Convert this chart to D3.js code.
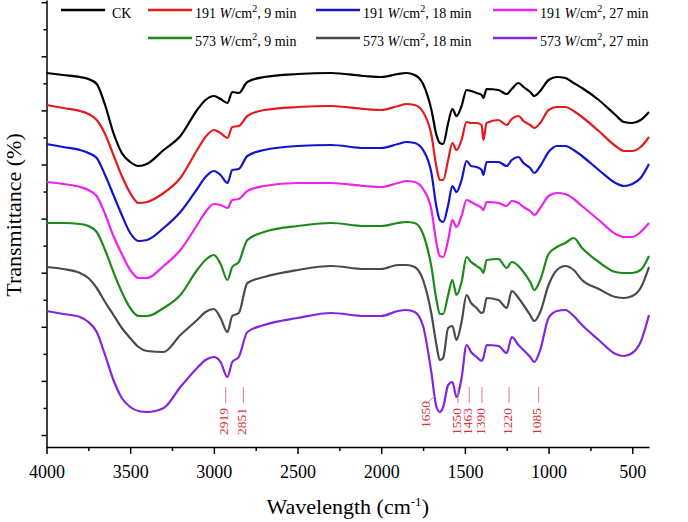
<!DOCTYPE html>
<html>
<head>
<meta charset="utf-8">
<script src="https://cdn.jsdelivr.net/npm/d3@7"></script>
<style>
  body { margin: 0; background: #fff; }
  svg, svg text { font-family: "Liberation Serif", "Times New Roman", serif; }
  svg { display: block; }
</style>
</head>
<body>
<svg id="chart"></svg>
<script>
// FTIR spectra, offset vertically (arbitrary transmittance units)
const wavenumbers = [4000, 3900, 3800, 3750, 3700, 3650, 3600, 3550, 3500, 3450,
  3400, 3300, 3200, 3100, 3050, 3000, 2960, 2919, 2890, 2851,
  2800, 2700, 2500, 2300, 2100, 2000, 1900, 1850, 1800, 1750,
  1700, 1670, 1650, 1630, 1600, 1575, 1550, 1520, 1490, 1463,
  1430, 1400, 1390, 1370, 1300, 1250, 1220, 1180, 1150, 1110,
  1085, 1050, 1000, 950, 900, 850, 800, 700, 600, 550,
  500, 450, 400];

const ck = [362, 360, 358, 356, 351, 330, 302, 282, 273, 269,
  271, 285, 299, 325, 335, 339, 336, 332, 343, 342,
  353, 358, 361, 362, 359, 358, 361, 362, 360, 351,
  325, 300, 292, 291, 312, 326, 319, 329, 345, 344,
  342, 340, 337, 346, 345, 341, 346, 352, 348, 343,
  339, 344, 355, 358, 357, 352, 347, 335, 320, 313,
  312, 315, 323];
const p191m9 = [330, 327, 324, 321, 315, 301, 280, 259, 242, 232,
  233, 242, 257, 285, 298, 305, 302, 297, 308, 309,
  319, 325, 328, 329, 326, 325, 329, 331, 330, 323,
  300, 268, 255, 255, 275, 292, 285, 295, 313, 312,
  312, 310, 295, 312, 315, 310, 316, 319, 314, 310,
  307, 312, 325, 328, 328, 324, 318, 304, 289, 284,
  284, 288, 298];
const p191m18 = [291, 288, 285, 282, 277, 260, 240, 220, 202, 194,
  195, 207, 223, 246, 258, 264, 260, 252, 265, 266,
  279, 285, 289, 290, 287, 287, 291, 293, 292, 285,
  262, 228, 215, 213, 230, 249, 243, 255, 274, 269,
  268, 265, 260, 273, 273, 269, 275, 278, 272, 267,
  262, 269, 283, 289, 289, 285, 279, 265, 252, 249,
  251, 257, 271];
const p191m27 = [253, 251, 248, 245, 239, 221, 199, 181, 165, 157,
  157, 169, 185, 210, 223, 231, 230, 227, 235, 236,
  244, 249, 252, 252, 249, 248, 252, 254, 253, 246,
  225, 192, 179, 178, 195, 215, 208, 219, 235, 233,
  230, 227, 225, 233, 232, 229, 234, 232, 228, 224,
  220, 227, 239, 242, 241, 236, 229, 215, 201, 198,
  198, 203, 212];
const p573m9 = [212, 212, 211, 209, 203, 185, 163, 143, 127, 119,
  119, 127, 140, 165, 175, 180, 171, 155, 168, 173,
  195, 203, 209, 212, 209, 209, 212, 213, 212, 201,
  168, 135, 121, 121, 140, 155, 140, 153, 178, 173,
  169, 165, 162, 175, 176, 167, 173, 169, 163, 153,
  145, 155, 181, 188, 192, 197, 187, 173, 163, 162,
  162, 165, 179];
const p573m18 = [168, 166, 162, 157, 147, 133, 120, 107, 97, 88,
  84, 83, 100, 115, 123, 126, 117, 103, 119, 122,
  152, 158, 165, 169, 166, 166, 170, 170, 168, 155,
  121, 90, 75, 77, 107, 109, 95, 113, 140, 132,
  127, 122, 123, 137, 135, 127, 144, 137, 130, 120,
  114, 123, 150, 165, 169, 165, 155, 146, 138, 137,
  139, 147, 168];
const p573m27 = [124, 121, 118, 113, 103, 80, 55, 37, 28, 24,
  23, 27, 48, 67, 75, 78, 73, 58, 73, 78,
  103, 110, 117, 122, 119, 119, 124, 125, 123, 109,
  62, 28, 23, 28, 50, 53, 38, 57, 90, 83,
  78, 74, 77, 90, 89, 82, 98, 90, 85, 78,
  73, 85, 117, 124, 125, 119, 110, 95, 81, 79,
  82, 93, 120];

const seriesValues = [ck, p191m9, p191m18, p191m27, p573m9, p573m18, p573m27];
const seriesPower = [null, 191, 191, 191, 573, 573, 573];
const seriesMinutes = [null, 9, 18, 27, 9, 18, 27];
const seriesColors = ["#000000", "#e41a1c", "#1414cc", "#ee22ee", "#1b8a1b", "#4a4a4a", "#8324e0"];

const xTickValues = [4000, 3500, 3000, 2500, 2000, 1500, 1000, 500];
const peakLabels = ["2919", "2851", "1650", "1550", "1463", "1390", "1220", "1085"];
const peakWavenumbers = [2919, 2851, 1650, 1550, 1463, 1390, 1220, 1085];
const peakLabelAt = [2941, 2836, 1738, 1553, 1486, 1410, 1248, 1071];

const width = 688, height = 522;
const svg = d3.select("#chart").attr("width", width).attr("height", height);

const x = d3.scaleLinear().domain([4000, 400]).range([46.5, 649]);
const y = d3.scaleLinear().domain([-12, 435]).range([447, 0]);

// bottom axis
const xMinor = d3.range(3750, 400, -500);
svg.append("g")
  .attr("transform", `translate(0,${y(-12)})`)
  .call(d3.axisBottom(x).tickValues(xMinor).tickSize(4).tickFormat(""))
  .call(g => g.select(".domain").remove());
const xAxis = svg.append("g")
  .attr("transform", `translate(0,${y(-12)})`)
  .call(d3.axisBottom(x).tickValues(xTickValues).tickSize(7).tickSizeOuter(0).tickPadding(11).tickFormat(d3.format("d")));
xAxis.attr("font-family", null).attr("font-size", null);
xAxis.selectAll("text").style("font-size", "18px").attr("fill", "#000");

// left axis, no labels
const yTicks = d3.range(0, 436, 27.05);
svg.append("g")
  .attr("transform", `translate(${x(4000)},0)`)
  .call(d3.axisLeft(y).tickValues(yTicks.filter((d, i) => i % 2 === 1)).tickSize(3).tickFormat(""))
  .call(g => g.select(".domain").remove());
svg.append("g")
  .attr("transform", `translate(${x(4000)},0)`)
  .call(d3.axisLeft(y).tickValues(yTicks.filter((d, i) => i % 2 === 0)).tickSize(5).tickSizeOuter(0).tickFormat(""));

svg.selectAll(".domain, .tick line").attr("stroke", "#000").attr("stroke-width", 1.5);

// axis titles
const xTitle = svg.append("text")
  .attr("x", (x(4000) + x(400)) / 2)
  .attr("y", 514)
  .attr("text-anchor", "middle")
  .style("font-size", "22px");
xTitle.append("tspan").text("Wavelength (cm");
xTitle.append("tspan").attr("dy", -8).style("font-size", "13px").text("-1");
xTitle.append("tspan").attr("dy", 8).text(")");

svg.append("text")
  .attr("transform", "translate(21,215) rotate(-90)")
  .attr("text-anchor", "middle")
  .style("font-size", "22px")
  .text("Transmittance (%)");

// spectra
const line = d3.line()
  .x((d, i) => x(wavenumbers[i]))
  .y(d => y(d))
  .curve(d3.curveMonotoneX);

seriesValues.forEach((vals, i) => {
  svg.append("path")
    .datum(vals)
    .attr("fill", "none")
    .attr("stroke", seriesColors[i])
    .attr("stroke-width", 2.2)
    .attr("stroke-linejoin", "round")
    .attr("d", line);
});

// peak annotations
const labelColor = "#d8333a";
peakLabels.forEach((lab, i) => {
  const lx = x(peakLabelAt[i]);
  const leader = lab === "1650";
  const bottom = leader ? 428 : 435;
  svg.append("text")
    .attr("transform", `translate(${lx},${bottom}) rotate(-90)`)
    .attr("dy", "0.35em")
    .attr("fill", labelColor)
    .style("font-size", "13.5px")
    .text(lab);
  if (leader) {
    svg.append("line")
      .attr("x1", lx + 1).attr("y1", 404)
      .attr("x2", x(peakWavenumbers[i]) - 5).attr("y2", 396)
      .attr("stroke", "#e07a7a").attr("stroke-width", 1);
  } else {
    svg.append("line")
      .attr("x1", lx + 2).attr("x2", lx + 2)
      .attr("y1", 403).attr("y2", 387)
      .attr("stroke", "#e07a7a").attr("stroke-width", 1);
  }
});

// legend
const legendCols = [61, 148, 316, 493];
const legendRows = [10, 38];
seriesValues.forEach((vals, i) => {
  const row = i <= 3 ? 0 : 1;
  const col = i === 0 ? 0 : (i <= 3 ? i : i - 3);
  const lx = legendCols[col], ly = legendRows[row];
  const g = svg.append("g");
  g.append("line")
    .attr("x1", lx).attr("x2", lx + 44)
    .attr("y1", ly).attr("y2", ly)
    .attr("stroke", seriesColors[i]).attr("stroke-width", 2.5);
  const t = g.append("text")
    .attr("x", lx + 44 + (i === 0 ? 7 : 3))
    .attr("y", ly + 8)
    .style("font-size", "14px");
  if (seriesPower[i] === null) {
    t.text("CK");
  } else {
    t.append("tspan").text(seriesPower[i] + " ");
    t.append("tspan").style("font-style", "italic").text("W");
    t.append("tspan").text("/cm");
    t.append("tspan").attr("dy", -6).style("font-size", "10px").text("2");
    t.append("tspan").attr("dy", 6).text(", " + seriesMinutes[i] + " min");
  }
});
</script>
</body>
</html>
